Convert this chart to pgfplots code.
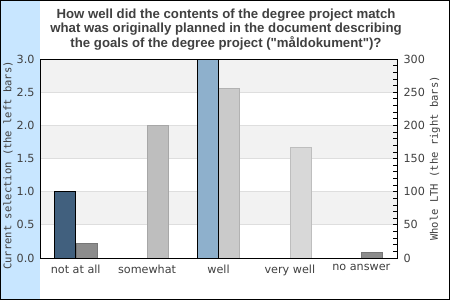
\documentclass[border=0pt]{standalone}
\usepackage{pgfplots}
\pgfplotsset{compat=1.18}
\usepackage{fontspec}
\setmainfont{DejaVu Sans}
\newfontfamily\titlefont{Liberation Sans}
\newfontfamily\labelmono{DejaVu Sans Mono}
\definecolor{strip}{RGB}{200,230,255}
\definecolor{band}{RGB}{242,242,242}
\definecolor{gridc}{RGB}{222,222,222}
\definecolor{txt}{RGB}{64,64,64}
\definecolor{curdark}{RGB}{65,96,126}
\definecolor{curlight}{RGB}{142,176,204}
\definecolor{gA}{RGB}{140,140,140}
\definecolor{gB}{RGB}{190,190,190}
\definecolor{gC}{RGB}{202,202,202}
\definecolor{gD}{RGB}{216,216,216}
\pgfplotsset{
  common/.style={
    at={(40pt,42pt)}, anchor=south west, scale only axis,
    width=357pt, height=199pt, xmin=-0.5, xmax=4.5,
    /pgf/number format/assume math mode=true,
    tick label style={font=\fontsize{11.2}{13}\selectfont, text=txt},
    label style={font=\labelmono\fontsize{10.5}{12}\selectfont, text=txt},
  }
}
\begin{document}
\begin{tikzpicture}[x=1pt,y=1pt]
\useasboundingbox (0,0) rectangle (450,300);
\fill[white] (0,0) rectangle (450,300);
\fill[strip] (0,0) rectangle (40,300);
\fill[band] (40,75.167) rectangle (397,108.333);
\fill[band] (40,141.5) rectangle (397,174.667);
\fill[band] (40,207.833) rectangle (397,241);
\node[align=center, text=txt, font=\titlefont\bfseries\fontsize{13.2}{14.4}\selectfont] at (226,270.5)
  {How well did the contents of the degree project match\\what was originally planned in the document describing\\the goals of the degree project ("måldokument")?};
% right axis: whole LTH
\begin{axis}[common,
  ymin=0, ymax=300, axis x line=none, axis y line*=right,
  ytick={0,50,...,300}, minor y tick num=4,
  tick align=inside, major tick length=4pt, minor tick length=4pt,
  tick style={black, line width=0.7pt},
  axis line style={black, line width=0.9pt},
  yticklabel style={xshift=3pt},
  ymajorgrids, grid style={draw=gridc, line width=0.8pt},
  ylabel={Whole LTH (the right bars)},
  ylabel style={at={(axis description cs:1.1064,0.5)}, anchor=center, rotate=0},
]
\addplot[ybar, bar width=21pt, bar shift=10.5pt, fill=gA, draw=gA!85!black] coordinates {(0,22)};
\addplot[ybar, bar width=21pt, bar shift=10.5pt, fill=gB, draw=gB!88!black] coordinates {(1,200)};
\addplot[ybar, bar width=21pt, bar shift=10.5pt, fill=gC, draw=gC!88!black] coordinates {(2,256)};
\addplot[ybar, bar width=21pt, bar shift=10.5pt, fill=gD, draw=gD!88!black] coordinates {(3,167)};
\addplot[ybar, bar width=21pt, bar shift=10.5pt, fill=gA, draw=gA!85!black] coordinates {(4,9)};
\end{axis}
% left axis: current selection
\begin{axis}[common,
  ymin=0, ymax=3, ytick={0,0.5,...,3},
  /pgf/number format/fixed, /pgf/number format/fixed zerofill, /pgf/number format/precision=1,
  yticklabel style={xshift=-2pt},
  xtick={0,1,2,3,4},
  xticklabels={not at all, somewhat, well, very well, no answer},
  xticklabel style={yshift=-3pt},
  major tick length=0pt, minor tick length=0pt,
  axis line style={black, line width=0.9pt},
  ylabel={Current selection (the left bars)},
  ylabel style={at={(axis description cs:-0.0896,0.465)}, anchor=center},
]
\addplot[ybar, bar width=21pt, bar shift=-10.5pt, fill=curdark, draw=black, line width=0.8pt] coordinates {(0,1)};
\addplot[ybar, bar width=21pt, bar shift=-10.5pt, fill=curlight, draw=black, line width=0.8pt] coordinates {(2,3)};
\end{axis}
\draw[black, line width=1pt] (0.5,0.5) rectangle (449.5,299.5);
\end{tikzpicture}
\end{document}
